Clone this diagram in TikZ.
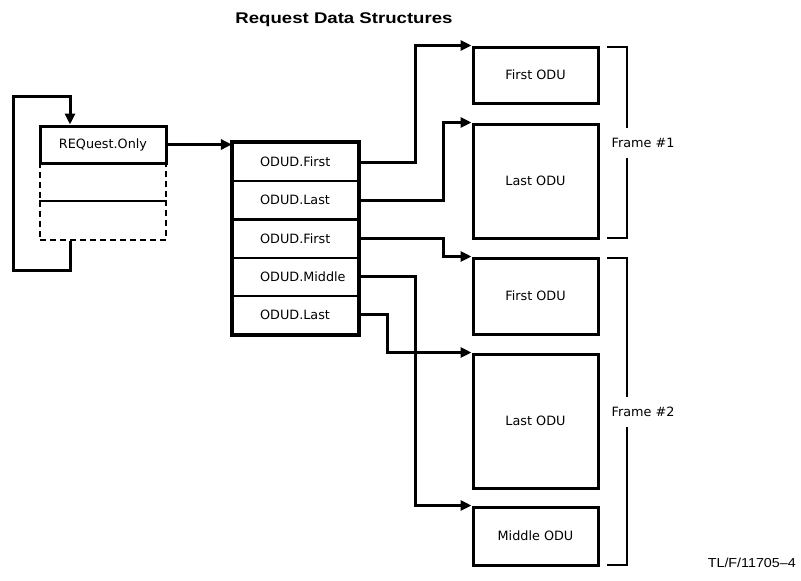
\documentclass[tikz,border=0pt]{standalone}
\usepackage{fontspec}
\setmainfont{DejaVu Sans}
\newfontfamily\titlefont[FakeStretch=1.2]{Liberation Sans Bold}
\newfontfamily\footfont[FakeStretch=1.1]{Liberation Sans}
\usetikzlibrary{arrows.meta}
\begin{document}
\begin{tikzpicture}[x=1pt,y=-1pt,
  box/.style={draw,line width=3pt,inner sep=0pt,font=\fontsize{12.8}{15}\selectfont},
  rowbox/.style={draw,line width=2.2pt,inner sep=0pt,minimum width=125pt,minimum height=38.2pt},
  rowtxt/.style={inner sep=0pt,anchor=west,font=\fontsize{12.8}{15}\selectfont},
  dbox/.style={draw,dash pattern=on 6pt off 4pt,line width=2.2pt,inner sep=0pt,minimum width=126pt,minimum height=38.5pt},
  conn/.style={line width=3pt,-{Triangle[length=11pt,width=10pt]}},
  brk/.style={line width=1.4pt},
  ftxt/.style={inner xsep=1pt,inner ysep=0pt,minimum height=29pt,font=\fontsize{12.8}{15}\selectfont}]
\useasboundingbox (0,0) rectangle (801,581);

% title
\node[font=\titlefont\fontsize{15.5}{18}\selectfont,anchor=base] (title) at (344,23) {Request Data Structures};

% request block
\node[dbox] (d1) at (103,182) {};
\node[dbox] (d2) at (103,220.5) {};
\node[box,minimum width=126pt,minimum height=37pt] (req) at (103,144.5) {REQuest.Only};

% loop
\coordinate (lp) at (70,0);
\draw[conn] (d2.south -| lp) -- ++(0,30) -- ++(-57,0) -- ++(0,-174) -- ++(57,0) -- (req.north -| lp);

% ODUD rows
\node[rowbox] (r1) at (295.5,162.1) {};
\node[rowbox] (r2) at (295.5,200.3) {};
\node[rowbox] (r3) at (295.5,238.5) {};
\node[rowbox] (r4) at (295.5,276.7) {};
\node[rowbox] (r5) at (295.5,314.9) {};
\draw[line width=3pt] (r1.north west) rectangle (r5.south east);
\node[rowtxt] (t1) at ([xshift=28pt]r1.west) {ODUD.First};
\node[rowtxt] (t2) at ([xshift=28pt]r2.west) {ODUD.Last};
\node[rowtxt] (t3) at ([xshift=28pt]r3.west) {ODUD.First};
\node[rowtxt] (t4) at ([xshift=28pt]r4.west) {ODUD.Middle};
\node[rowtxt] (t5) at ([xshift=28pt]r5.west) {ODUD.Last};

\draw[conn] (req.east) -- (req.east -| r1.west);

% ODU boxes
\node[box,minimum width=125pt,minimum height=56pt] (f1) at (535.5,75) {First ODU};
\node[box,minimum width=125pt,minimum height=114pt] (l1) at (535.5,181) {Last ODU};
\node[box,minimum width=125pt,minimum height=76pt] (f2) at (535.5,296) {First ODU};
\node[box,minimum width=125pt,minimum height=134pt] (l2) at (535.5,421) {Last ODU};
\node[box,minimum width=125pt,minimum height=58pt] (m2) at (535.5,536) {Middle ODU};

% connectors
\coordinate (xa) at (415,0);
\coordinate (xb) at (443,0);
\coordinate (xc) at (387,0);
\draw[conn] (r1.east) -- (r1.east -| xa) |- (f1.north west);
\draw[conn] (r2.east) -- (r2.east -| xb) |- (l1.north west);
\draw[conn] (r3.east) -- (r3.east -| xb) |- (f2.north west);
\draw[conn] (r4.east) -- (r4.east -| xa) |- (m2.north west);
\draw[conn] (r5.east) -- (r5.east -| xc) |- (l2.north west);

% frames
\coordinate (bx) at (627,0);
\node[ftxt] (fr1) at (643,143) {Frame \#1};
\node[ftxt] (fr2) at (643,412) {Frame \#2};
\draw[brk] (607,47) -| (fr1.north -| bx);
\draw[brk] (fr1.south -| bx) |- (607,238);
\draw[brk] (607,258) -| (fr2.north -| bx);
\draw[brk] (fr2.south -| bx) |- (607,565);

% footer
\node[anchor=base east,inner sep=0pt,font=\footfont\fontsize{13}{15}\selectfont] (foot) at (796,567) {TL/F/11705–4};
\end{tikzpicture}
\end{document}
